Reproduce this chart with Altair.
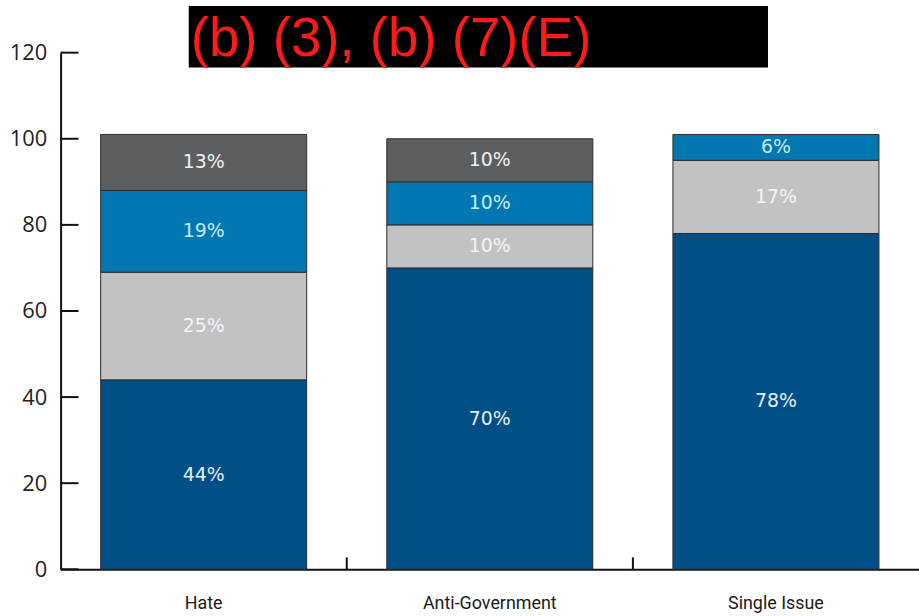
import altair as alt
import pandas as pd

categories = ["Hate", "Anti-Government", "Single Issue"]
series = ["Series 1", "Series 2", "Series 3", "Series 4"]
series_colors = ["#004f87", "#c2c2c4", "#0277b2", "#5d5e60"]
label_colors = ["#e6eef5", "#f4f4f4", "#c9ecf8", "#f0f0f0"]
values = {
    "Hate": [44, 25, 19, 13],
    "Anti-Government": [70, 10, 10, 10],
    "Single Issue": [78, 17, 6, 0],
}
y_ticks = [0, 20, 40, 60, 80, 100, 120]
title_text = "(b) (3), (b) (7)(E)"

rows = []
for c in categories:
    for i, s in enumerate(series):
        v = values[c][i]
        if v > 0:
            rows.append({"category": c, "series": s, "order": i, "value": v,
                         "label": f"{v}%"})
df = pd.DataFrame(rows)

W, H = 864, 520

x_enc = alt.X("category:N", sort=categories,
              scale=alt.Scale(paddingInner=0.28, paddingOuter=0.14),
              axis=alt.Axis(title=None, ticks=False, labelAngle=0, grid=False,
                            labelFont="Roboto", labelFontSize=18,
                            labelColor="#1a1a1a", labelPadding=25,
                            domainColor="#111111", domainWidth=2))
y_scale = alt.Scale(domain=[0, 120], nice=False)

base = alt.Chart(df).transform_stack(
    stack="value", groupby=["category"], as_=["y0", "y1"],
    sort=[alt.SortField("order", order="ascending")]
).transform_calculate(mid="(datum.y0 + datum.y1) / 2")

bars = base.mark_bar(stroke="#2b2b2b", strokeWidth=1).encode(
    x=x_enc,
    y=alt.Y("y0:Q", scale=y_scale,
            axis=alt.Axis(title=None, values=y_ticks, ticks=False, grid=False,
                          labelFont="Open Sans", labelFontSize=22,
                          labelColor="#222222", labelPadding=14,
                          domainColor="#111111", domainWidth=2)),
    y2="y1:Q",
    color=alt.Color("series:N", scale=alt.Scale(domain=series, range=series_colors),
                    legend=None),
)

labels = base.mark_text(font="DejaVu Sans", fontSize=19, baseline="middle").encode(
    x=alt.X("category:N", sort=categories),
    y=alt.Y("mid:Q", scale=y_scale),
    text="label:N",
    color=alt.Color("series:N", scale=alt.Scale(domain=series, range=label_colors),
                    legend=None),
)

ytick_df = pd.DataFrame({"v": y_ticks})
yticks = alt.Chart(ytick_df).mark_rule(color="#111111", strokeWidth=2).encode(
    y=alt.Y("v:Q", scale=y_scale),
    x=alt.value(0),
    x2=alt.value(18),
)

xtick_df = pd.DataFrame({"category": categories[1:]})
xticks = alt.Chart(xtick_df).mark_rule(color="#111111", strokeWidth=2,
                                       xOffset=-40.3).encode(
    x=alt.X("category:N", sort=categories, bandPosition=0),
    y=alt.value(H),
    y2=alt.value(H - 12),
)

title_df = pd.DataFrame({"t": [title_text]})
box = alt.Chart(title_df).mark_rect(color="black").encode(
    x=alt.value(129), x2=alt.value(712), y=alt.value(-47), y2=alt.value(15),
)
title = alt.Chart(title_df).mark_text(color="#ff1a1a", font="Liberation Sans",
                                      fontSize=55, align="left",
                                      baseline="middle").encode(
    x=alt.value(131), y=alt.value(-14), text="t:N",
)

chart = alt.layer(bars, labels, yticks, xticks, box, title).resolve_scale(
    color="independent"
).properties(
    width=W, height=H,
    autosize=alt.AutoSizeParams(type="none"),
    padding={"left": 61, "top": 51, "right": 0, "bottom": 45},
    view=alt.ViewBackground(stroke="transparent", strokeWidth=0),
).configure_view(stroke="transparent", strokeWidth=0).configure_axis(
    grid=False, gridColor="transparent", tickColor="transparent"
).configure_axisTop(domainColor="red").configure_axisY(gridOpacity=0).configure_axisX(
    gridOpacity=0
).configure(background="white")

chart.save("out.html", embed_options={"renderer": "svg", "actions": False})
